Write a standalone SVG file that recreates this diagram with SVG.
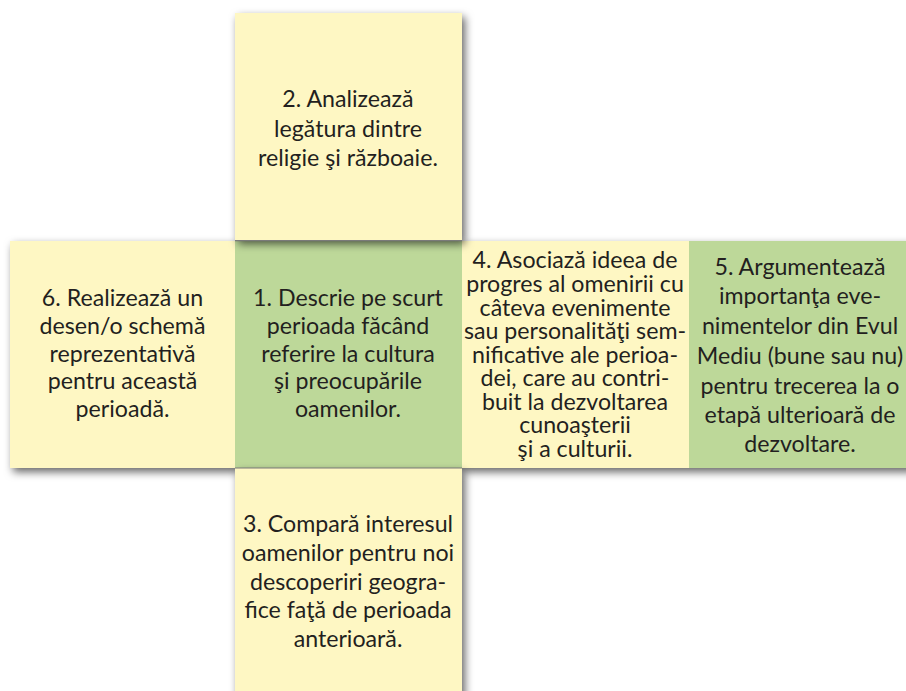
<svg xmlns="http://www.w3.org/2000/svg" width="906" height="691" viewBox="0 0 906 691">
<defs>
<filter id="sh" x="-10%" y="-10%" width="125%" height="125%">
<feDropShadow dx="3" dy="4" stdDeviation="4" flood-color="#000" flood-opacity="0.6"/>
</filter>
</defs>
<style>
.y{fill:#FEF7C3}
.g{fill:#BDD899}
.ln{stroke:#7a7a7a;stroke-width:1.2;fill:none}
text{font-family:Lato,"Open Sans",sans-serif;font-size:23.2px;fill:#231F20;text-anchor:middle}
</style>
<rect width="906" height="691" fill="#fff"/>
<g id="row" filter="url(#sh)">
<rect class="y" x="10" y="241" width="225" height="227"/>
<rect class="g" x="235" y="241" width="227" height="227"/>
<rect class="y" x="462" y="241" width="227" height="227"/>
<rect class="g" x="689" y="241" width="230" height="227"/>
</g>
<g id="sq2" filter="url(#sh)">
<rect class="y" x="235" y="13" width="227" height="227"/>
</g>
<g id="sq3" filter="url(#sh)">
<rect class="y" x="235" y="468" width="227" height="240"/>
</g>
<g id="connectors">
<line class="ln" x1="235" y1="240.6" x2="462" y2="240.6"/>
<line class="ln" x1="235" y1="468" x2="462" y2="468"/>
</g>
<g id="t2">
<text x="348" y="107">2. Analizează</text>
<text x="348" y="137">legătura dintre</text>
<text x="348" y="166">religie şi războaie.</text>
</g>
<g id="t6">
<text x="122.5" y="306">6. Realizează un</text>
<text x="122.5" y="334">desen/o schemă</text>
<text x="122.5" y="362">reprezentativă</text>
<text x="122.5" y="389">pentru această</text>
<text x="122.5" y="417">perioadă.</text>
</g>
<g id="t1">
<text x="348" y="306">1. Descrie pe scurt</text>
<text x="348" y="334">perioada făcând</text>
<text x="348" y="362">referire la cultura</text>
<text x="348" y="389">şi preocupările</text>
<text x="348" y="417">oamenilor.</text>
</g>
<g id="t4">
<text x="575" y="268">4. Asociază ideea de</text>
<text x="575" y="292">progres al omenirii cu</text>
<text x="575" y="316">câteva evenimente</text>
<text x="575" y="339">sau personalităţi sem-</text>
<text x="575" y="363">nificative ale perioa-</text>
<text x="575" y="386">dei, care au contri-</text>
<text x="575" y="410">buit la dezvoltarea</text>
<text x="575" y="433">cunoaşterii</text>
<text x="575" y="457">şi a culturii.</text>
</g>
<g id="t5">
<text x="800" y="275">5. Argumentează</text>
<text x="800" y="304">importanţa eve-</text>
<text x="800" y="334">nimentelor din Evul</text>
<text x="800" y="364">Mediu (bune sau nu)</text>
<text x="800" y="394">pentru trecerea la o</text>
<text x="800" y="423">etapă ulterioară de</text>
<text x="800" y="452">dezvoltare.</text>
</g>
<g id="t3">
<text x="348" y="532">3. Compară interesul</text>
<text x="348" y="561">oamenilor pentru noi</text>
<text x="348" y="590">descoperiri geogra-</text>
<text x="348" y="618">fice faţă de perioada</text>
<text x="348" y="647">anterioară.</text>
</g>
</svg>
